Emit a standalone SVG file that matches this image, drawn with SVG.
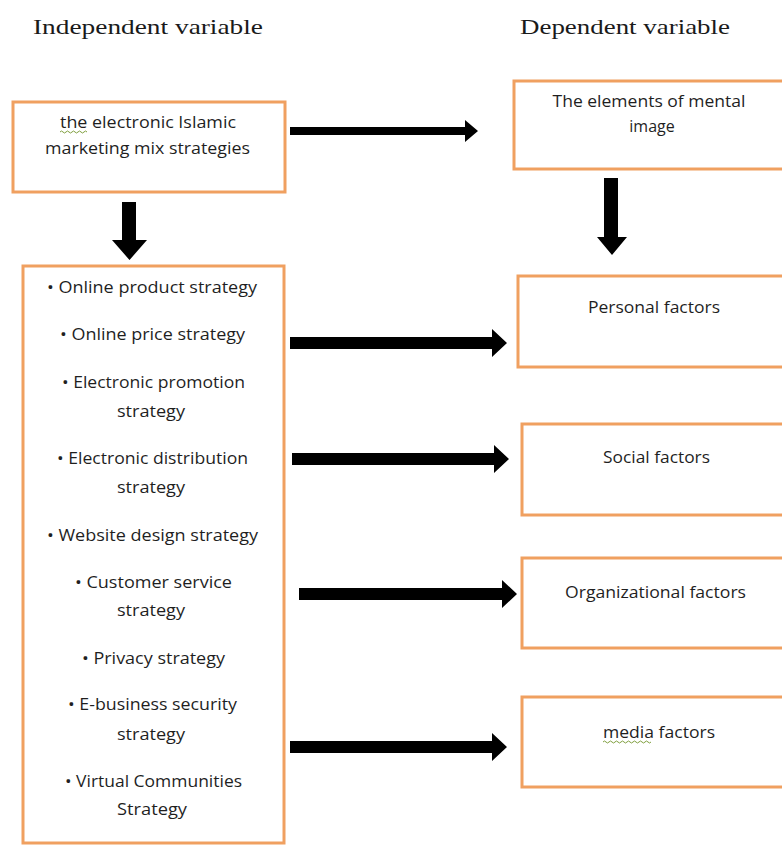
<svg xmlns="http://www.w3.org/2000/svg" width="782" height="845" viewBox="0 0 782 845">
<style>
.box{fill:#ffffff;stroke:#F0A060;stroke-width:3}
.t{font-family:"Open Sans","Liberation Sans",sans-serif;font-size:16px;fill:#1f1f1f;text-anchor:middle}
.h{font-family:"Liberation Serif","Times New Roman",serif;font-size:22px;fill:#1a1a1a}
.arr{fill:#000000}
.sq{fill:none;stroke:#7f9f3f;stroke-width:1}
</style>
<rect x="0" y="0" width="782" height="845" fill="#ffffff"/>
<g id="headings">
<text class="h" x="33" y="34" textLength="230" lengthAdjust="spacingAndGlyphs">Independent variable</text>
<text class="h" x="520" y="34" textLength="210" lengthAdjust="spacingAndGlyphs">Dependent variable</text>
</g>
<g id="n-mix">
<rect class="box" x="13" y="102" width="272" height="90"/>
<text class="t" x="148" y="128" textLength="176" lengthAdjust="spacingAndGlyphs">the electronic  Islamic</text>
<text class="t" x="147.5" y="154" textLength="205" lengthAdjust="spacingAndGlyphs">marketing mix strategies</text>
<path class="sq" d="M60,132 q1.5,-2 3,0 t3,0 t3,0 t3,0 t3,0 t3,0 t3,0 t3,0 t3,0"/>
</g>
<g id="n-mental">
<rect class="box" x="514" y="81" width="300" height="88"/>
<text class="t" x="649" y="107" textLength="193" lengthAdjust="spacingAndGlyphs">The elements  of mental</text>
<text class="t" x="652" y="132">image</text>
</g>
<g id="n-strategies">
<rect class="box" x="23" y="266" width="261" height="577"/>
<text class="t" x="152" y="293" textLength="210" lengthAdjust="spacingAndGlyphs">• Online product strategy</text>
<text class="t" x="152.5" y="340" textLength="185" lengthAdjust="spacingAndGlyphs">• Online  price strategy</text>
<text class="t" x="153.5" y="388" textLength="183" lengthAdjust="spacingAndGlyphs">• Electronic  promotion</text>
<text class="t" x="151" y="417" textLength="68" lengthAdjust="spacingAndGlyphs">strategy</text>
<text class="t" x="152.5" y="464" textLength="191" lengthAdjust="spacingAndGlyphs">• Electronic  distribution</text>
<text class="t" x="151" y="493" textLength="68" lengthAdjust="spacingAndGlyphs">strategy</text>
<text class="t" x="152.5" y="541" textLength="211" lengthAdjust="spacingAndGlyphs">• Website  design strategy</text>
<text class="t" x="153.5" y="588" textLength="157" lengthAdjust="spacingAndGlyphs">• Customer  service</text>
<text class="t" x="151" y="616" textLength="68" lengthAdjust="spacingAndGlyphs">strategy</text>
<text class="t" x="153.5" y="664" textLength="143" lengthAdjust="spacingAndGlyphs">• Privacy strategy</text>
<text class="t" x="152.5" y="710" textLength="169" lengthAdjust="spacingAndGlyphs">• E-business  security</text>
<text class="t" x="151" y="740" textLength="68" lengthAdjust="spacingAndGlyphs">strategy</text>
<text class="t" x="153.5" y="787" textLength="177" lengthAdjust="spacingAndGlyphs">• Virtual Communities</text>
<text class="t" x="152" y="815" textLength="70" lengthAdjust="spacingAndGlyphs">Strategy</text>
</g>
<g id="n-personal">
<rect class="box" x="518" y="276" width="300" height="91"/>
<text class="t" x="654" y="313" textLength="132" lengthAdjust="spacingAndGlyphs">Personal  factors</text>
</g>
<g id="n-social">
<rect class="box" x="522" y="424" width="300" height="91"/>
<text class="t" x="656.5" y="463" textLength="107" lengthAdjust="spacingAndGlyphs">Social  factors</text>
</g>
<g id="n-organizational">
<rect class="box" x="522" y="558" width="300" height="90"/>
<text class="t" x="655.5" y="598" textLength="181" lengthAdjust="spacingAndGlyphs">Organizational  factors</text>
</g>
<g id="n-media">
<rect class="box" x="522" y="697" width="300" height="90"/>
<text class="t" x="659" y="738" textLength="112" lengthAdjust="spacingAndGlyphs">media factors</text>
<path class="sq" d="M603,742 q1.5,-2 3,0 t3,0 t3,0 t3,0 t3,0 t3,0 t3,0 t3,0 t3,0 t3,0 t3,0 t3,0 t3,0 t3,0 t3,0 t3,0"/>
</g>
<g id="connectors">
<polygon class="arr" points="290,127 465,127 465,120 478,131 465,142 465,135 290,135"/>
<polygon class="arr" points="122,202 136,202 136,240 147,240 129.5,260 112,240 122,240"/>
<polygon class="arr" points="604,178 618,178 618,237 627,237 612,255 597,237 604,237"/>
<polygon class="arr" points="290,337 492,337 492,329 507,343 492,357 492,349 290,349"/>
<polygon class="arr" points="292,453 494,453 494,445 509,459 494,473 494,465 292,465"/>
<polygon class="arr" points="299,588 502,588 502,580 517,594 502,608 502,600 299,600"/>
<polygon class="arr" points="290,741 492,741 492,733 507,747 492,761 492,753 290,753"/>
</g>
</svg>
